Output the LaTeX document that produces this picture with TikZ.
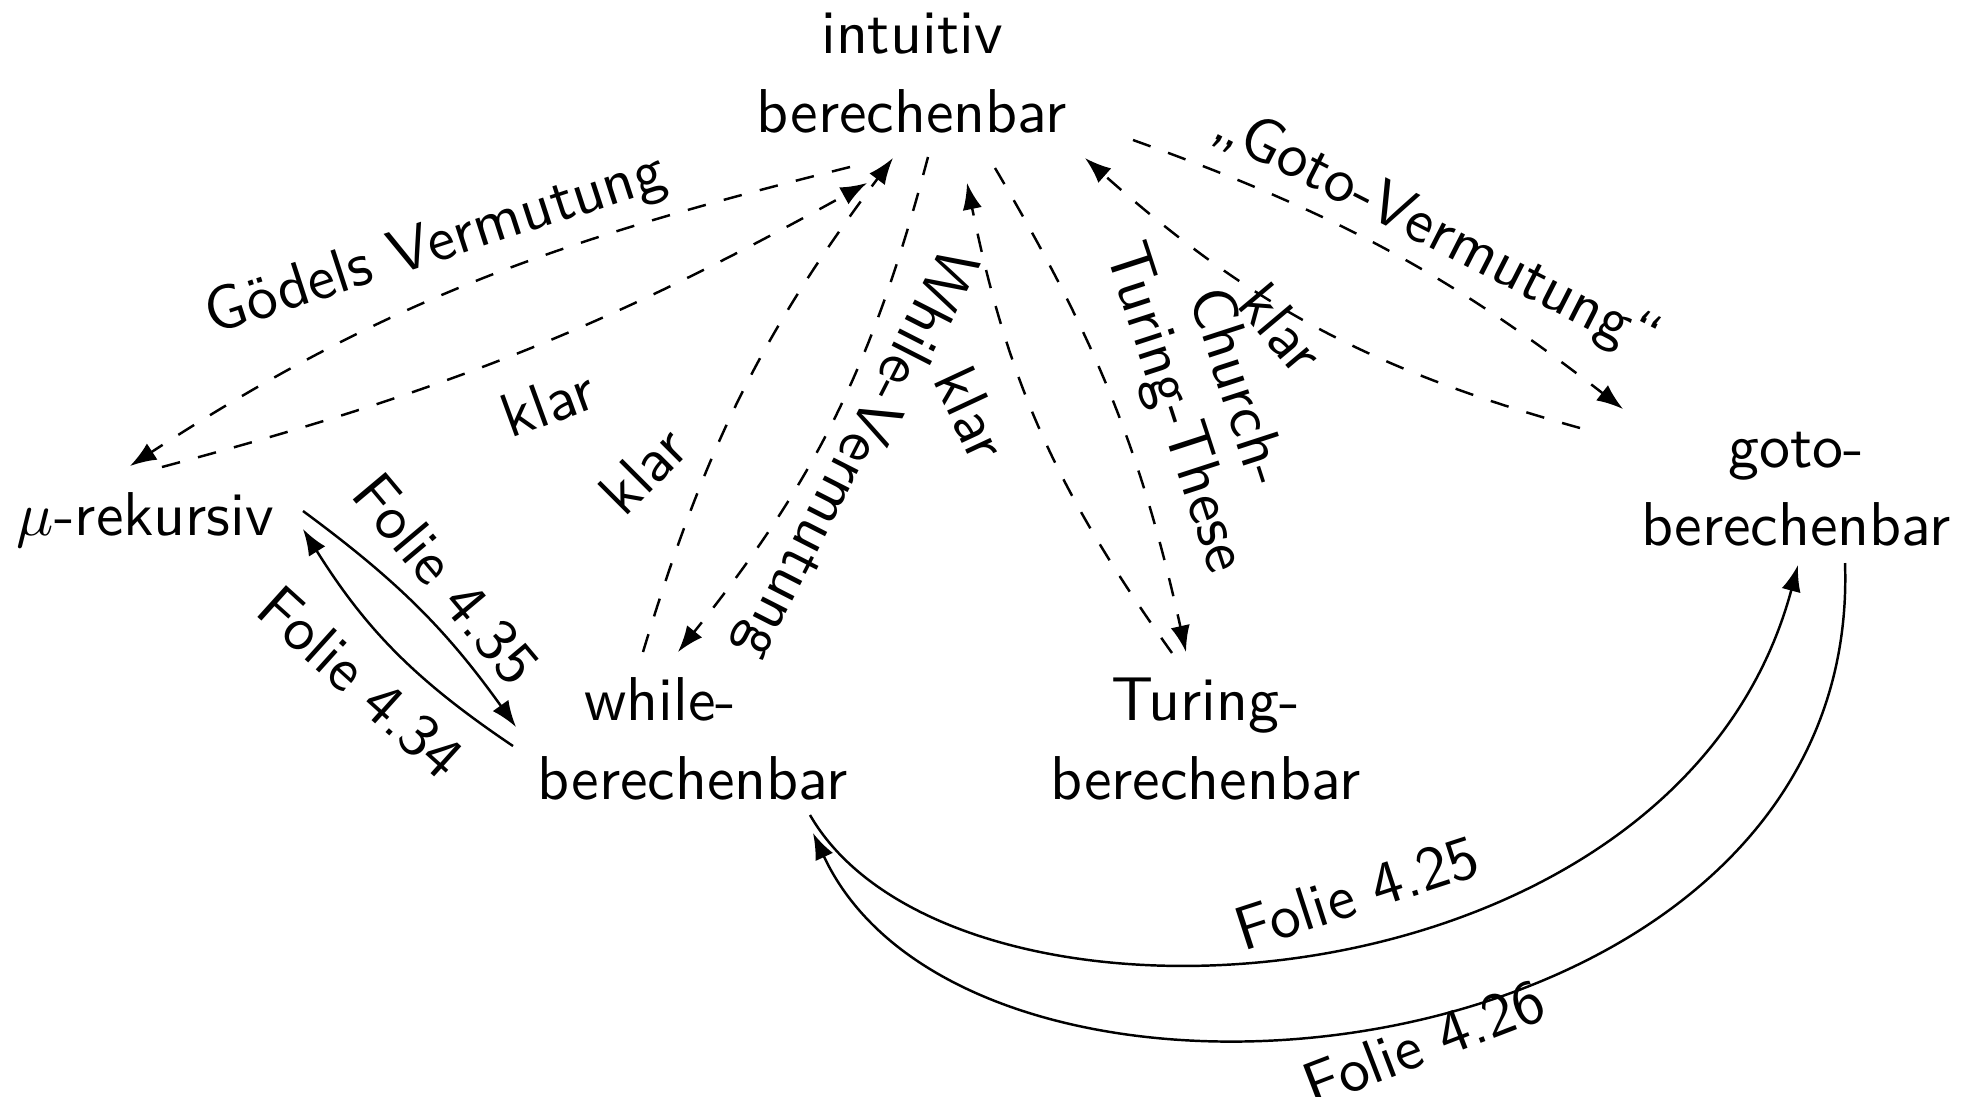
\documentclass[tikz,border=0pt]{standalone}
\usetikzlibrary{arrows.meta}
\begin{document}
\begin{tikzpicture}[x=0.01cm,y=0.01cm,
  txt/.style={font=\sffamily\fontsize{10}{12.7}\selectfont, scale=1.76, align=center, inner sep=0pt},
  lbl/.style={font=\sffamily\fontsize{10}{10.6}\selectfont, scale=1.76, align=center, inner sep=0pt},
  edgebase/.style={line width=0.7pt, -{Latex[length=7.5pt,width=5.5pt]}},
  dashedge/.style={edgebase, dash pattern=on 5.3pt off 5.3pt},
  solidedge/.style={edgebase}
]
\useasboundingbox (0,0) rectangle (1975,-1096);

% nodes
\node[txt] (I) at (912,-73) {intuitiv\\berechenbar};
\node[txt] (M) at (145.5,-520.5) {$\mu$-rekursiv};
\node[txt] (W) at (693,-739) {while-\hspace*{10.6pt}\\berechenbar};
\node[txt] (T) at (1205.5,-739) {Turing-\\berechenbar};
\node[txt] (G) at (1796,-489) {goto-\\berechenbar};

% dashed connectors
\draw[dashedge] ([shift={(-62,-94)}]I.center) to[out=194,in=33] ([shift={(-15.5,54.5)}]M.center);
\draw[dashedge] ([shift={(16.5,53.5)}]M.center) to[bend right=7] ([shift={(-45,-110)}]I.center);
\draw[dashedge] ([shift={(-50,87)}]W.center) to[bend left=10] ([shift={(-19,-85)}]I.center);
\draw[dashedge] ([shift={(16,-84)}]I.center) to[bend left=12] ([shift={(-15,87)}]W.center);
\draw[dashedge] ([shift={(-33.5,86)}]T.center) to[bend left=12] ([shift={(55,-110)}]I.center);
\draw[dashedge] ([shift={(83,-95)}]I.center) to[bend left=9] ([shift={(-19.5,87)}]T.center);
\draw[dashedge] ([shift={(-216,61)}]G.center) to[bend left=13] ([shift={(173,-85)}]I.center);
\draw[dashedge] ([shift={(221,-67)}]I.center) to[bend left=9] ([shift={(-173,80)}]G.center);

% solid connectors
\draw[solidedge] ([shift={(157.5,9.5)}]M.center) to[bend left=9] ([shift={(-177,12)}]W.center);
\draw[solidedge] ([shift={(-180,-7)}]W.center) to[bend left=12] ([shift={(157.5,-8.5)}]M.center);
\draw[solidedge] ([shift={(117,-76)}]W.center) .. controls +(142.5,-246.8) and +(-121.6,-454) .. ([shift={(2,-76)}]G.center);
\draw[solidedge] ([shift={(49,-74)}]G.center) .. controls +(18.2,-519.5) and +(160.6,-344.4) .. ([shift={(120,-94)}]W.center);

% labels
\node[lbl, rotate=18] (lg) at (436,-246) {Gödels Vermutung};
\node[lbl, rotate=20] (lk1) at (548,-403) {klar};
\node[lbl, rotate=45] (lk2) at (643,-470) {klar};
\node[lbl, rotate=-117] (lw) at (854,-453) {While-Vermutung};
\node[lbl, rotate=-65] (lk3) at (972,-413) {klar};
\node[lbl, rotate=-72] (lc) at (1204,-398) {Church-\\Turing-These};
\node[lbl, rotate=-50] (lk4) at (1282,-328) {klar};
\node[lbl, rotate=-27] (lgv) at (1436,-234) {„Goto-Vermutung“};
\node[lbl, rotate=-50] (l35) at (446,-579) {Folie 4.35};
\node[lbl, rotate=-42] (l34) at (361,-682) {Folie 4.34};
\node[lbl, rotate=18] (l25) at (1357,-893) {Folie 4.25};
\node[lbl, rotate=21] (l26) at (1424,-1043) {Folie 4.26};
\end{tikzpicture}
\end{document}
